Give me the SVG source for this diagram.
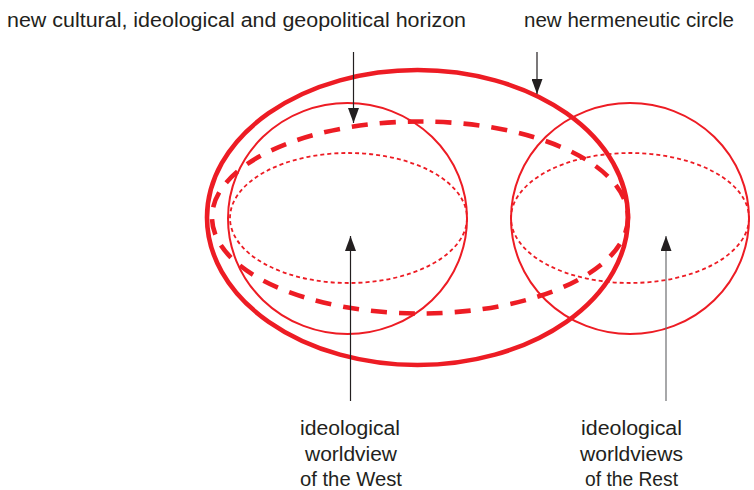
<svg xmlns="http://www.w3.org/2000/svg" width="754" height="490" viewBox="0 0 754 490">
<style>
.red{fill:none;stroke:#ED1C24}
.thick{stroke-width:4.6}
.thin{stroke-width:2}
.dot{stroke-width:1.8;stroke-dasharray:4 3}
.dash{stroke-width:4.6;stroke-dasharray:16 12}
.lbl{font-family:"Liberation Sans",Arial,sans-serif;font-size:20px;fill:#231F20}
.ln{stroke:#231F20;stroke-width:1.2;fill:none}
</style>
<defs>
<marker id="arr" markerWidth="15" markerHeight="11" refX="15" refY="5.5" orient="auto" markerUnits="userSpaceOnUse" viewBox="0 0 15 11">
<path d="M0,0 L15,5.5 L0,11 Z" fill="#231F20"/>
</marker>
</defs>
<g id="shapes">
<g id="west-circle"><ellipse class="red thin" cx="347.5" cy="218.5" rx="119.5" ry="115.5"/><ellipse class="red dot" cx="348.5" cy="218" rx="118.5" ry="65"/></g>
<g id="rest-circle"><ellipse class="red thin" cx="630" cy="218.5" rx="119" ry="115.5"/><ellipse class="red dot" cx="630" cy="218" rx="119" ry="65"/></g>
<g id="horizon"><ellipse class="red dash" cx="420" cy="217.5" rx="208" ry="96"/></g>
<g id="hermeneutic-circle"><ellipse class="red thick" cx="417.5" cy="217.5" rx="210.5" ry="147.5"/></g>
</g>
<g id="connectors">
<line class="ln" x1="353.5" y1="52" x2="353.5" y2="123" marker-end="url(#arr)"/>
<line class="ln" x1="537" y1="52" x2="537" y2="94" marker-end="url(#arr)"/>
<line class="ln" x1="350.5" y1="401" x2="350.5" y2="236" marker-end="url(#arr)"/>
<line class="ln" x1="666" y1="401" x2="666" y2="236" marker-end="url(#arr)" style="stroke:#6d6e71"/>
</g>
<g id="labels">
<text class="lbl" x="7" y="27" textLength="459" lengthAdjust="spacingAndGlyphs">new cultural, ideological and geopolitical horizon</text>
<text class="lbl" x="524" y="27" textLength="210" lengthAdjust="spacingAndGlyphs">new hermeneutic circle</text>
<text class="lbl" x="300" y="435" textLength="100" lengthAdjust="spacingAndGlyphs">ideological</text>
<text class="lbl" x="305" y="461" textLength="92" lengthAdjust="spacingAndGlyphs">worldview</text>
<text class="lbl" x="300" y="486" textLength="102" lengthAdjust="spacingAndGlyphs">of the West</text>
<text class="lbl" x="581" y="435" textLength="101" lengthAdjust="spacingAndGlyphs">ideological</text>
<text class="lbl" x="580" y="461" textLength="103" lengthAdjust="spacingAndGlyphs">worldviews</text>
<text class="lbl" x="585" y="486" textLength="93" lengthAdjust="spacingAndGlyphs">of the Rest</text>
</g>
</svg>
